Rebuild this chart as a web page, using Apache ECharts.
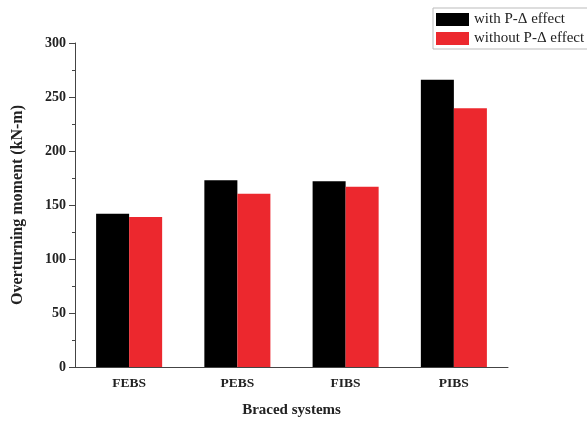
<!DOCTYPE html>
<html>
<head>
<meta charset="utf-8">
<script src="https://cdn.jsdelivr.net/npm/echarts@6/dist/echarts.min.js"></script>
<style>
  html, body { margin: 0; padding: 0; background: #fff; }
  #chart { width: 587px; height: 423px; }
</style>
</head>
<body>
<div id="chart"></div>
<script>
// Braced systems compared on overturning moment
const categories = ['FEBS', 'PEBS', 'FIBS', 'PIBS'];
const withPDelta = [142, 173, 172, 266];
const withoutPDelta = [139, 160.5, 167, 239.5];
const seriesNames = ['with P-\u0394 effect', 'without P-\u0394 effect'];

const serif = '"Liberation Serif", "DejaVu Serif", serif';
const axisColor = '#444';

const chart = echarts.init(document.getElementById('chart'));
chart.setOption({
  animation: false,
  backgroundColor: '#fff',
  grid: { left: 75, right: 79, top: 43, bottom: 53 },
  legend: {
    orient: 'vertical',
    left: 433,
    top: 8,
    padding: [4, 30, 3, 3],
    itemWidth: 33,
    itemHeight: 13,
    itemGap: 4,
    borderColor: '#bbb',
    borderWidth: 1,
    textStyle: { fontFamily: serif, fontSize: 15, color: '#222' },
    data: seriesNames.map(n => ({ name: n, icon: 'rect' }))
  },
  xAxis: {
    type: 'category',
    data: categories,
    name: 'Braced systems',
    nameLocation: 'middle',
    nameGap: 36,
    nameTextStyle: { fontFamily: serif, fontSize: 15, fontWeight: 'bold', color: '#222' },
    axisLine: { lineStyle: { color: axisColor, width: 1 } },
    axisTick: { alignWithLabel: true, length: 5, lineStyle: { color: axisColor } },
    axisLabel: { fontFamily: serif, fontSize: 13.5, fontWeight: 'bold', color: '#222', margin: 10 }
  },
  yAxis: {
    type: 'value',
    min: 0,
    max: 300,
    interval: 50,
    name: 'Overturning moment (kN-m)',
    nameLocation: 'middle',
    nameGap: 49,
    nameTextStyle: { fontFamily: serif, fontSize: 16, fontWeight: 'bold', color: '#222' },
    axisLine: { show: true, lineStyle: { color: axisColor, width: 1 } },
    axisTick: { show: true, length: 6, lineStyle: { color: axisColor } },
    minorTick: { show: true, splitNumber: 2, length: 3, lineStyle: { color: axisColor } },
    splitLine: { show: false },
    axisLabel: { fontFamily: serif, fontSize: 14, fontWeight: 'bold', color: '#222', margin: 9 }
  },
  series: [
    {
      name: seriesNames[0],
      type: 'bar',
      data: withPDelta,
      barGap: '0%',
      barCategoryGap: '39%',
      itemStyle: { color: '#000' }
    },
    {
      name: seriesNames[1],
      type: 'bar',
      data: withoutPDelta,
      itemStyle: { color: '#ec282e' }
    }
  ]
});
</script>
</body>
</html>
